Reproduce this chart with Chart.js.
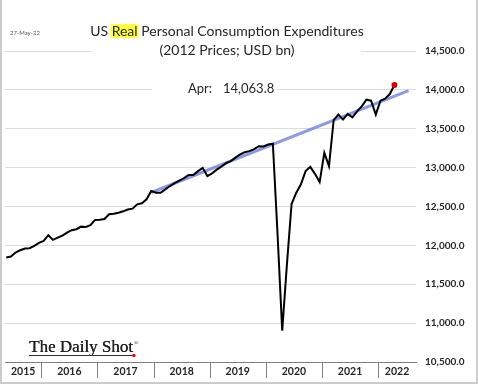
<!DOCTYPE html>
<html>
<head>
<meta charset="utf-8">
<title>US Real Personal Consumption Expenditures</title>
<script src="https://cdn.jsdelivr.net/npm/chart.js"></script>
<style>
  body { margin: 0; background: #fff; }
  canvas { display: block; }
</style>
</head>
<body>
<canvas id="myChart" width="478" height="384"></canvas>
<script>
// month index counted from Jan 2015 (0 = Jan 2015)
const firstMonth = 4; // May 2015
const pce = [
    // 2015 May-Dec
    11844, 11856, 11908, 11938, 11959, 11964, 11994, 12032,
    // 2016
    12058, 12131, 12071, 12100, 12126, 12164, 12195, 12208, 12241, 12237, 12259, 12327,
    // 2017
    12331, 12340, 12400, 12408, 12420, 12438, 12462, 12472, 12528, 12541, 12592, 12699,
    // 2018
    12677, 12677, 12720, 12763, 12801, 12833, 12865, 12906, 12904, 12955, 12997, 12891,
    // 2019
    12926, 12974, 13013, 13058, 13083, 13128, 13169, 13199, 13212, 13237, 13276, 13272,
    // 2020
    13297, 13308, 12150, 10904, 11750, 12532, 12677, 12785, 12955, 13010, 12920, 12814,
    // 2021
    13190, 13019, 13610, 13682, 13618, 13690, 13647, 13724, 13788, 13874, 13861, 13682,
    // 2022 Jan-Apr
    13861, 13887, 13946, 14063.8
]
// pre-covid trend, two end points (month index, value)
const trendMonths = [35, 90]
const trendValues = [12680, 13990]

const yearLabels = ['2015', '2016', '2017', '2018', '2019', '2020', '2021', '2022']
const yTicks = [10500, 11000, 11500, 12000, 12500, 13000, 13500, 14000, 14500]
const latestLabel = 'Apr:'
const dateStamp = '27-May-22'

const xMin = 3.74
const xMax = 91.6
// year boundaries sit half a month before each January point
const yearBounds = yearLabels.slice(1).map((y, k) => (k + 1) * 12 - 0.5)
const edges = [xMin, ...yearBounds, xMax]
const yearCenters = yearLabels.map((y, k) => (edges[k] + edges[k + 1]) / 2)

const pceData = pce.map((v, i) => ({ x: firstMonth + i, y: v }))
const trendData = trendMonths.map((m, i) => ({ x: m, y: trendValues[i] }))
const lastPoint = pceData[pceData.length - 1]

const fmt = (v) => v.toLocaleString('en-US', { minimumFractionDigits: 1, maximumFractionDigits: 1 })
const textColor = '#262626'

const decorations = {
    id: 'decorations',
    beforeDraw(chart) {
        const ctx = chart.ctx
        ctx.save()
        ctx.fillStyle = '#fff'
        ctx.fillRect(0, 0, chart.width, chart.height)
        ctx.restore()
    },
    afterDraw(chart) {
        const { ctx, scales: { x, y } } = chart
        ctx.save()

        // year separators below the axis
        ctx.strokeStyle = '#7f7f7f'
        ctx.lineWidth = 1
        yearBounds.forEach(b => {
            const px = Math.round(x.getPixelForValue(b)) + 0.5
            ctx.beginPath()
            ctx.moveTo(px, y.bottom)
            ctx.lineTo(px, y.bottom + 16)
            ctx.stroke()
        })

        // title block (white box hides the gridline)
        ctx.fillStyle = '#fff'
        ctx.fillRect(91, 18, 270, 42)
        ctx.font = '14px Lato'
        ctx.textBaseline = 'middle'
        const p1 = 'US ', p2 = 'Real', p3 = ' Personal Consumption Expenditures'
        const w1 = ctx.measureText(p1).width
        const w2 = ctx.measureText(p2).width
        const w3 = ctx.measureText(p3).width
        let tx = 227 - (w1 + w2 + w3) / 2
        ctx.fillStyle = '#ffff3c'
        ctx.fillRect(tx + w1 - 1, 24, w2 + 2, 14)
        ctx.fillStyle = textColor
        ctx.textAlign = 'left'
        ctx.fillText(p1, tx, 31)
        ctx.fillText(p2, tx + w1, 31)
        ctx.fillText(p3, tx + w1 + w2, 31)
        ctx.textAlign = 'center'
        ctx.fillText('(2012 Prices; USD bn)', 227, 50)

        // latest value label
        const ly = y.getPixelForValue(14000)
        ctx.fillStyle = '#fff'
        ctx.fillRect(152, ly - 9, 125, 18)
        ctx.fillStyle = textColor
        ctx.font = '13px Lato'
        ctx.textAlign = 'left'
        ctx.fillText(latestLabel, 188, ly - 1)
        ctx.fillText(fmt(lastPoint.y), 223, ly - 1)

        // date stamp
        ctx.font = '6px Lato'
        ctx.fillStyle = '#595959'
        ctx.fillText(dateStamp, 10, 33)

        // logo
        ctx.font = '17px "Liberation Serif"'
        ctx.fillStyle = '#222'
        ctx.textBaseline = 'alphabetic'
        ctx.fillText('The Daily Shot', 29, 352)
        ctx.fillText('The Daily Shot', 29.4, 352)
        const lw = ctx.measureText('The Daily Shot').width
        ctx.font = '6px "Liberation Serif"'
        ctx.fillText('®', 29 + lw + 1, 345)
        ctx.strokeStyle = '#333'
        ctx.beginPath()
        ctx.moveTo(29, 355.5)
        ctx.lineTo(29 + lw, 355.5)
        ctx.stroke()
        ctx.fillStyle = '#e01010'
        ctx.beginPath()
        ctx.arc(29 + lw + 1, 355.5, 1.8, 0, Math.PI * 2)
        ctx.fill()

        // frame
        ctx.strokeStyle = '#cccccc'
        ctx.lineWidth = 2
        ctx.beginPath()
        ctx.moveTo(1, 0)
        ctx.lineTo(1, 383)
        ctx.lineTo(477, 383)
        ctx.lineTo(477, 0)
        ctx.stroke()
        ctx.restore()
    }
}

const ctx = document.getElementById('myChart')

const pceChart = new Chart(ctx, {
    type: 'line',
    data: {
        datasets: [
            {
                label: 'Latest',
                data: [lastPoint],
                showLine: false,
                pointRadius: 3,
                pointBackgroundColor: '#e00000',
                pointBorderWidth: 0,
                order: 0,
            },
            {
                label: 'Real PCE',
                data: pceData,
                borderColor: '#000',
                borderWidth: 2,
                pointRadius: 0,
                tension: 0,
                order: 1,
            },
            {
                label: 'Trend',
                data: trendData,
                borderColor: 'rgba(120, 135, 225, 0.85)',
                borderWidth: 3,
                pointRadius: 0,
                order: 2,
            },
        ]
    },
    options: {
        responsive: false,
        animation: false,
        layout: { padding: { left: 5, top: 51, right: 0, bottom: 0 } },
        plugins: {
            legend: { display: false },
            tooltip: { enabled: false },
        },
        scales: {
            x: {
                type: 'linear',
                position: 'bottom',
                min: xMin,
                max: xMax,
                afterBuildTicks: (scale) => {
                    scale.ticks = yearCenters.map(v => ({ value: v }))
                },
                afterFit: (scale) => { scale.height = 22 },
                grid: { display: true, drawOnChartArea: false, drawTicks: false },
                border: { display: true, color: '#7f7f7f', width: 1 },
                ticks: {
                    autoSkip: false,
                    maxRotation: 0,
                    padding: 3,
                    color: textColor,
                    font: { family: 'Lato', size: 10.5, weight: 'bold' },
                    callback: (value, index) => yearLabels[index],
                },
            },
            y: {
                position: 'right',
                min: 10500,
                max: 14500,
                afterBuildTicks: (scale) => {
                    scale.ticks = yTicks.map(v => ({ value: v }))
                },
                afterFit: (scale) => { scale.width = 62 },
                grid: { color: '#dcdcdc', drawTicks: false },
                border: { display: false },
                ticks: {
                    padding: 9,
                    crossAlign: 'near',
                    color: textColor,
                    font: { family: 'Lato', size: 10, weight: 'bold' },
                    callback: (value) => fmt(value),
                },
            },
        },
    },
    plugins: [decorations],
});
</script>
</body>
</html>
